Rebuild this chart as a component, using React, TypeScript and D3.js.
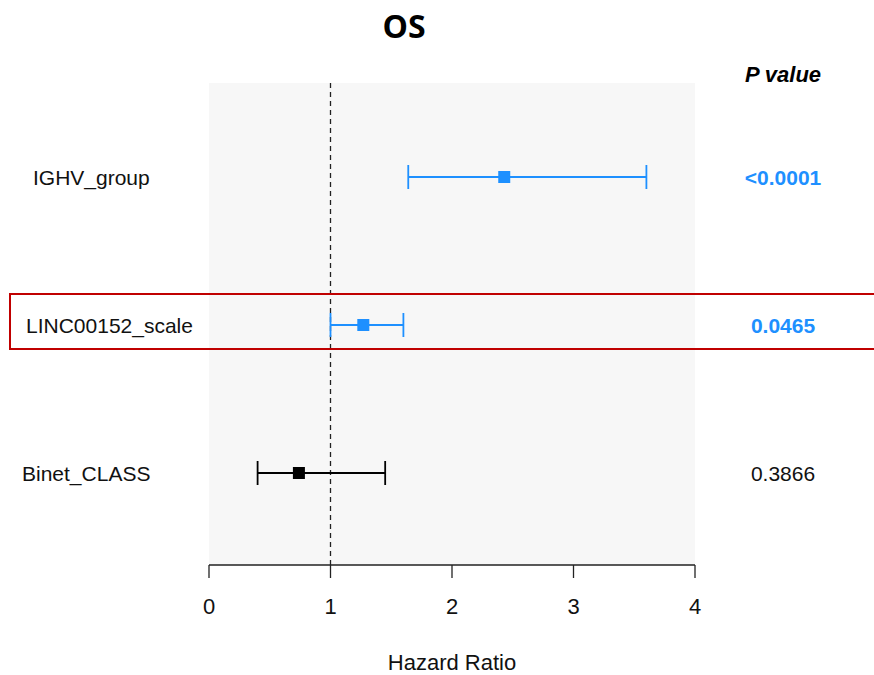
import * as d3 from 'd3'

// Cox regression, overall survival
const variables = ['IGHV_group', 'LINC00152_scale', 'Binet_CLASS']
const hazardRatio = [2.43, 1.27, 0.74]
const lowerCI = [1.64, 1.0, 0.4]
const upperCI = [3.6, 1.6, 1.45]
const pValues = ['<0.0001', '0.0465', '0.3866']
const significant = [true, true, false]
const labelX = [33, 26, 22]
const xTicks = [0, 1, 2, 3, 4]

const W = 874
const H = 675
const BLUE = '#1E90FF'
const FONT = 'Arial, "Liberation Sans", Helvetica, sans-serif'

export default function App() {
  const x = d3.scaleLinear().domain([0, 4]).range([209, 695])
  const y = d3.scalePoint<string>().domain(variables).range([177, 473])
  const panelTop = 83
  const panelBottom = 565
  const capH = 12
  const sq = 12

  return (
    <svg width={W} height={H} style={{ position: 'absolute', left: 0, top: 0, background: 'white' }}>
      <rect x={x(0)} y={panelTop} width={x(4) - x(0)} height={panelBottom - panelTop} fill="#f7f7f7" />

      <text x={404} y={38} textAnchor="middle" fontFamily='"Open Sans", sans-serif' fontWeight={700} fontSize={32}>OS</text>
      <text x={783} y={82} textAnchor="middle" fontFamily={FONT} fontWeight={700} fontStyle="italic" fontSize={22}>P value</text>

      {/* reference line */}
      <line x1={x(1)} x2={x(1)} y1={panelTop} y2={panelBottom} stroke="#222" strokeWidth={1.3} strokeDasharray="5,4" />

      {variables.map((v, i) => {
        const cy = y(v) as number
        const col = significant[i] ? BLUE : '#000'
        return (
          <g key={v}>
            <text x={labelX[i]} y={cy + 8} fontFamily={FONT} fontSize={21} fill="#111">{v}</text>
            <line x1={x(lowerCI[i])} x2={x(upperCI[i])} y1={cy} y2={cy} stroke={col} strokeWidth={1.8} />
            <line x1={x(lowerCI[i])} x2={x(lowerCI[i])} y1={cy - capH} y2={cy + capH} stroke={col} strokeWidth={1.8} />
            <line x1={x(upperCI[i])} x2={x(upperCI[i])} y1={cy - capH} y2={cy + capH} stroke={col} strokeWidth={1.8} />
            <rect x={x(hazardRatio[i]) - sq / 2} y={cy - sq / 2} width={sq} height={sq} fill={col} />
            <text x={783} y={cy + 8} textAnchor="middle" fontFamily={FONT} fontSize={21}
              fontWeight={significant[i] ? 700 : 400} fill={significant[i] ? BLUE : '#111'}>{pValues[i]}</text>
          </g>
        )
      })}

      {/* highlight box */}
      <rect x={10} y={294} width={866} height={55} fill="none" stroke="#C00000" strokeWidth={2} />

      {/* x axis */}
      <line x1={x(0)} x2={x(4)} y1={panelBottom} y2={panelBottom} stroke="#222" strokeWidth={1.3} />
      {xTicks.map(t => (
        <g key={t}>
          <line x1={x(t)} x2={x(t)} y1={panelBottom} y2={panelBottom + 13} stroke="#222" strokeWidth={1.3} />
          <text x={x(t)} y={614} textAnchor="middle" fontFamily={FONT} fontSize={22} fill="#111">{t}</text>
        </g>
      ))}
      <text x={452} y={670} textAnchor="middle" fontFamily={FONT} fontSize={22} fill="#111">Hazard Ratio</text>
    </svg>
  )
}
